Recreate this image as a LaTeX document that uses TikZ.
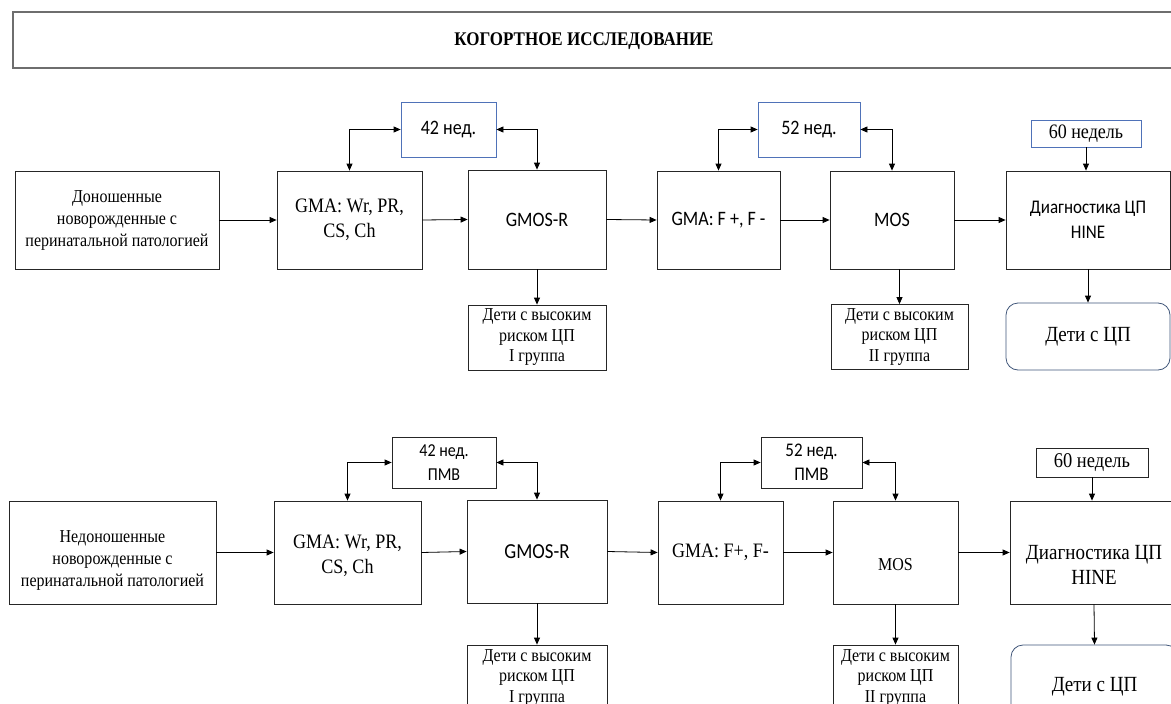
\documentclass[tikz,border=0pt]{standalone}
\usepackage{fontspec}
\setmainfont{Liberation Serif}[FakeStretch=0.88]
\newfontfamily\calib{Carlito}[FakeStretch=0.88]
\usetikzlibrary{arrows.meta}
\definecolor{wkblue}{HTML}{4F72B8}
\definecolor{cpgray}{HTML}{41577A}
\definecolor{ttlgray}{HTML}{6E6E6E}
\begin{document}
\begin{tikzpicture}[x=1pt,y=-1pt,
  blk/.style={draw=black!85,line width=0.8pt,inner sep=1pt,align=center},
  wk/.style={blk,draw=wkblue},
  cp/.style={blk,draw=cpgray,rounded corners=12pt},
  sf/.style 2 args={font=\fontsize{#1}{#2}\selectfont},
  sn/.style 2 args={font=\calib\fontsize{#1}{#2}\selectfont},
  arr/.style={-{Triangle[length=7pt,width=6pt]},line width=0.8pt},
  dbl/.style={{Triangle[length=7pt,width=6pt]}-{Triangle[length=7pt,width=6pt]},line width=0.8pt}]
\path[use as bounding box,fill=white] (0,0) rectangle (1171,704);
\clip (0,0) rectangle (1171,704);

\node[draw=ttlgray,line width=1.2pt,minimum width=1170pt,minimum height=56pt] (ttl) at (598,40) {};
\node[font=\bfseries\fontsize{19.3}{23}\selectfont] (ttltxt) at (584,41) {КОГОРТНОЕ ИССЛЕДОВАНИЕ};

\node[blk,sf={18.2}{22},minimum width=204pt,minimum height=98pt] (a1) at (117,220) {Доношенные\\новорожденные с\\перинатальной патологией};
\node[blk,sf={20.5}{25},minimum width=145pt,minimum height=98pt] (b1) at (349.5,220) {GMA: Wr, PR,\\CS, Ch};
\node[blk,sn={20.5}{22},minimum width=138pt,minimum height=99pt] (c1) at (537,219.5) {GMOS-R};
\node[blk,sn={20.5}{22},minimum width=123pt,minimum height=98pt] (d1) at (718.5,220) {GMA: F +, F -};
\node[blk,sn={20.5}{22},minimum width=124pt,minimum height=98pt] (e1) at (892,220) {MOS};
\node[blk,sn={19.3}{25},minimum width=164pt,minimum height=98pt] (f1) at (1088,220) {Диагностика ЦП\\HINE};
\node[wk,sn={20.5}{22},minimum width=95pt,minimum height=55pt] (w42a) at (448.5,129.5) {42 нед.};
\node[wk,sn={20.5}{22},minimum width=102pt,minimum height=55pt] (w52a) at (809,129.5) {52 нед.};
\node[wk,sf={20.5}{24},minimum width=110pt,minimum height=27pt] (w60a) at (1086,133.5) {60 недель};
\node[blk,sf={18.2}{20.5},minimum width=138pt,minimum height=65pt] (k1a) at (537,337.5) {Дети с высоким\\риском ЦП\\I группа};
\node[blk,sf={18.2}{20.5},minimum width=137pt,minimum height=65pt] (k1b) at (899.5,337) {Дети с высоким\\риском ЦП\\II группа};
\node[cp,sf={21.6}{25},minimum width=164pt,minimum height=67pt] (cp1) at (1088,336.5) {Дети с ЦП};

\draw[arr] (a1.east) -- (b1.west);
\draw[arr] (b1.east) -- (c1.west);
\draw[arr] (c1.east) -- (d1.west);
\draw[arr] (d1.east) -- (e1.west);
\draw[arr] (e1.east) -- (f1.west);
\draw[dbl] (b1.north) |- (w42a.west);
\draw[dbl] (c1.north) |- (w42a.east);
\draw[dbl] (d1.north) |- (w52a.west);
\draw[dbl] (e1.north) |- (w52a.east);
\draw[arr] (w60a.south) -- (w60a.south |- f1.north);
\draw[arr] (c1.south) -- (k1a.north);
\draw[arr] (k1b.north |- e1.south) -- (k1b.north);
\draw[arr] (f1.south) -- (cp1.north);

\node[blk,sf={18.2}{22},minimum width=207pt,minimum height=103pt] (a2) at (112.5,552.5) {\rule{0pt}{27pt}Недоношенные\\новорожденные с\\перинатальной патологией};
\node[blk,sf={20.5}{25},minimum width=147pt,minimum height=103pt] (b2) at (347.5,552.5) {\rule{0pt}{20pt}GMA: Wr, PR,\\CS, Ch};
\node[blk,sn={21.4}{22},minimum width=140pt,minimum height=103pt] (c2) at (537,551.5) {GMOS-R};
\node[blk,sf={20.5}{25},minimum width=125pt,minimum height=103pt] (d2) at (720.5,552.5) {GMA: F+, F-};
\node[blk,sf={18.2}{22},minimum width=125pt,minimum height=103pt] (e2) at (895.5,552.5) {\rule{0pt}{36pt}MOS};
\node[blk,sf={21.6}{25},minimum width=168pt,minimum height=103pt] (f2) at (1094,552.5) {\rule{0pt}{39pt}Диагностика ЦП\\HINE};
\node[blk,sn={18.2}{24},minimum width=104pt,minimum height=51pt] (w42b) at (444,462.5) {42 нед.\\ПМВ};
\node[blk,sn={19.3}{24},minimum width=101pt,minimum height=51pt] (w52b) at (811.5,462.5) {52 нед.\\ПМВ};
\node[blk,sf={21}{24},minimum width=112pt,minimum height=29pt] (w60b) at (1092,462.5) {60 недель};
\node[blk,sf={18.2}{20.5},minimum width=140pt,minimum height=65pt] (k2a) at (537,677.5) {Дети с высоким\\риском ЦП\\I группа};
\node[blk,sf={18.2}{20.5},minimum width=125pt,minimum height=65pt] (k2b) at (895.5,677.5) {Дети с высоким\\риском ЦП\\II группа};
\node[cp,sf={21.6}{25},minimum width=167pt,minimum height=84pt] (cp2) at (1094.5,687) {Дети с ЦП};

\draw[arr] (a2.east) -- (b2.west);
\draw[arr] (b2.east) -- (c2.west);
\draw[arr] (c2.east) -- (d2.west);
\draw[arr] (d2.east) -- (e2.west);
\draw[arr] (e2.east) -- (f2.west);
\draw[dbl] (b2.north) |- (w42b.west);
\draw[dbl] (c2.north) |- (w42b.east);
\draw[dbl] (d2.north) |- (w52b.west);
\draw[dbl] (e2.north) |- (w52b.east);
\draw[arr] (w60b.south) -- (w60b.south |- f2.north);
\draw[arr] (c2.south) -- (k2a.north);
\draw[arr] (e2.south) -- (k2b.north);
\draw[arr] (f2.south) -- (cp2.north);
\end{tikzpicture}
\end{document}
